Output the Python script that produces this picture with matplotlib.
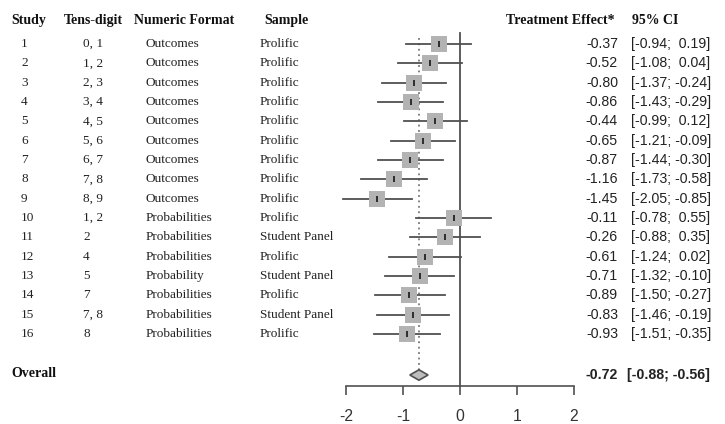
import matplotlib
matplotlib.use("Agg")
import matplotlib.pyplot as plt
import matplotlib.transforms as mtransforms
import numpy as np

# study table
study = [str(i) for i in range(1, 17)]
tens_digit = ["0, 1", "1, 2", "2, 3", "3, 4", "4, 5", "5, 6", "6, 7", "7, 8", "8, 9",
              "1, 2", "2", "4", "5", "7", "7, 8", "8"]
num_format = ["Outcomes"] * 9 + ["Probabilities", "Probabilities", "Probabilities",
                                 "Probability", "Probabilities", "Probabilities", "Probabilities"]
sample = ["Prolific"] * 10 + ["Student Panel", "Prolific", "Student Panel", "Prolific",
                              "Student Panel", "Prolific"]

# treatment effects and 95% CI
te = [-0.37, -0.52, -0.80, -0.86, -0.44, -0.65, -0.87, -1.16, -1.45,
      -0.11, -0.26, -0.61, -0.71, -0.89, -0.83, -0.93]
ci_lo = [-0.94, -1.08, -1.37, -1.43, -0.99, -1.21, -1.44, -1.73, -2.05,
         -0.78, -0.88, -1.24, -1.32, -1.50, -1.46, -1.51]
ci_hi = [0.19, 0.04, -0.24, -0.29, 0.12, -0.09, -0.30, -0.58, -0.85,
         0.55, 0.35, 0.02, -0.10, -0.27, -0.19, -0.35]

overall_te = -0.72
overall_lo = -0.88
overall_hi = -0.56

xticks = [-2, -1, 0, 1, 2]

SERIF = "Liberation Serif"
SANS = "Liberation Sans"
W, H = 725, 424

fig = plt.figure(figsize=(W / 100, H / 100), dpi=100)
row_px = 19.33
y_bottom = 1 + (386 - 44) / row_px
ax = fig.add_axes([346 / W, 1 - 386 / H, 228 / W, (386 - 24.67) / H])
ax.set_xlim(-2, 2)
ax.set_ylim(y_bottom, 0)

rows = np.arange(1, len(te) + 1)
overall_row = 1 + (375 - 44) / row_px

# reference lines
ax.plot([0, 0], [0.43, y_bottom], color="#505050", lw=1.3, clip_on=False)
ax.plot([overall_te, overall_te], [0.69, overall_row - 0.25], color="#777777",
        lw=1.3, ls=(0, (1, 2)), clip_on=False)

# CIs and boxes
for r, t, lo, hi in zip(rows, te, ci_lo, ci_hi):
    ax.plot([lo, hi], [r, r], color="#505050", lw=1.3, clip_on=False, zorder=2)
ax.plot(te, rows, ls="none", marker="s", markersize=12, color="#b3b3b3",
        markeredgewidth=0, zorder=3, clip_on=False)
ax.plot(te, rows, ls="none", marker="|", markersize=5, color="#222222",
        markeredgewidth=1.3, zorder=4, clip_on=False)

# overall diamond
dh = 0.27
ax.fill([overall_lo, overall_te, overall_hi, overall_te],
        [overall_row, overall_row - dh, overall_row, overall_row + dh],
        facecolor="#bdbdbd", edgecolor="#505050", lw=1.2, zorder=3)

for s in ["top", "right", "left"]:
    ax.spines[s].set_visible(False)
ax.spines["bottom"].set_color("#505050")
ax.spines["bottom"].set_linewidth(1.2)
ax.set_yticks([])
ax.set_xticks(xticks)
ax.set_xticklabels([str(v) for v in xticks], family=SANS, fontsize=11.3, color="#333333")
ax.tick_params(axis="x", direction="out", length=6.5, width=1.2, color="#505050", pad=10)
ax.patch.set_visible(False)

tr = mtransforms.blended_transform_factory(fig.transFigure, ax.transData)
head_row = (21 - 44) / row_px + 1


def put(xpx, y, s, **kw):
    fig.text(xpx / W, y, s, transform=tr, va="center", **kw)


# headers
hkw = dict(family=SERIF, fontsize=10, fontweight="bold", color="#111111")
put(11, head_row, "Study", **hkw)
put(64, head_row, "Tens-digit", **hkw)
put(134, head_row, "Numeric Format", **hkw)
put(264, head_row, "Sample", **hkw)
put(615, head_row, "Treatment Effect*", ha="right", **hkw)
put(632, head_row, "95% CI", **hkw)

tkw = dict(family=SERIF, fontsize=9.5, color="#222222")
nkw = dict(family=SANS, fontsize=10.2, color="#222222")
for r, a, b, c, d, t, lo, hi in zip(rows, study, tens_digit, num_format, sample, te, ci_lo, ci_hi):
    put(21, r, a, **tkw)
    put(83, r, b, **tkw)
    put(146, r, c, **tkw)
    put(260, r, d, **tkw)
    put(618, r, f"{t:.2f}", ha="right", **nkw)
    put(631, r, f"[{lo:5.2f}; {hi:5.2f}]", **nkw)

put(11, overall_row - 0.1, "Overall", **hkw)
put(618, overall_row, f"{overall_te:.2f}", ha="right", fontweight="bold", **nkw)
put(627, overall_row, f"[{overall_lo:.2f}; {overall_hi:.2f}]", fontweight="bold", **nkw)

fig.savefig("out.png", dpi=100)
